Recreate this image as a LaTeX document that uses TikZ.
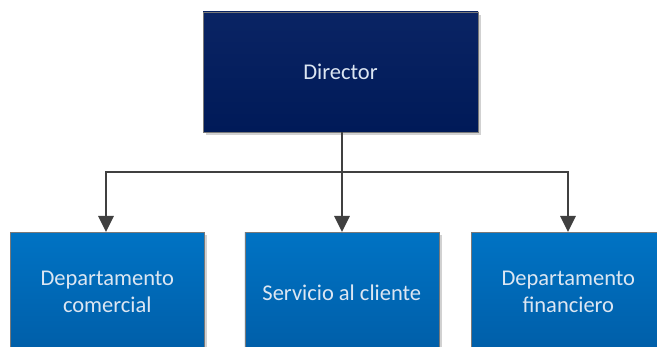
\documentclass[tikz,border=0pt]{standalone}
\usepackage{fontspec}
\setmainfont{Carlito}
\usetikzlibrary{arrows.meta,shadows}
\definecolor{navytop}{HTML}{0A2464}
\definecolor{navybot}{HTML}{001A58}
\definecolor{bluetop}{HTML}{0073C4}
\definecolor{bluebot}{HTML}{005EA8}
\definecolor{txt}{HTML}{DCE6F2}
\definecolor{conn}{HTML}{404040}
\begin{document}
\begin{tikzpicture}[x=1pt,y=-1pt,
  boxbase/.style={draw=conn!70,line width=0.6pt,minimum width=194pt,minimum height=120pt,
    inner sep=0pt,align=center,text=txt,font=\fontsize{22.5}{27}\selectfont,
    drop shadow={shadow xshift=3pt,shadow yshift=-3pt,fill=black!18,opacity=1}},
  topbox/.style={boxbase,minimum width=275pt,top color=navytop,bottom color=navybot},
  subbox/.style={boxbase,top color=bluetop,bottom color=bluebot},
  link/.style={draw=conn,line width=2.8pt,-{Triangle[length=16pt,width=15pt]}}]
\useasboundingbox (0,0) rectangle (657,347);
\node[topbox] (dir) at (340.5,72) {Director};
\node[subbox,anchor=north west] (com) at (10,232) {Departamento\\comercial};
\node[subbox,anchor=north west] (ser) at (244.5,232) {Servicio al cliente};
\node[subbox,anchor=north west] (fin) at (471,232) {Departamento\\financiero};
\coordinate (j) at (342,172);
\draw[link] (dir.south -| j) -- (j) -| (com.north -| 106,0);
\draw[link] (dir.south -| j) -- (ser.north -| j);
\draw[link] (dir.south -| j) -- (j) -| (fin.north -| 568,0);
\end{tikzpicture}
\end{document}
